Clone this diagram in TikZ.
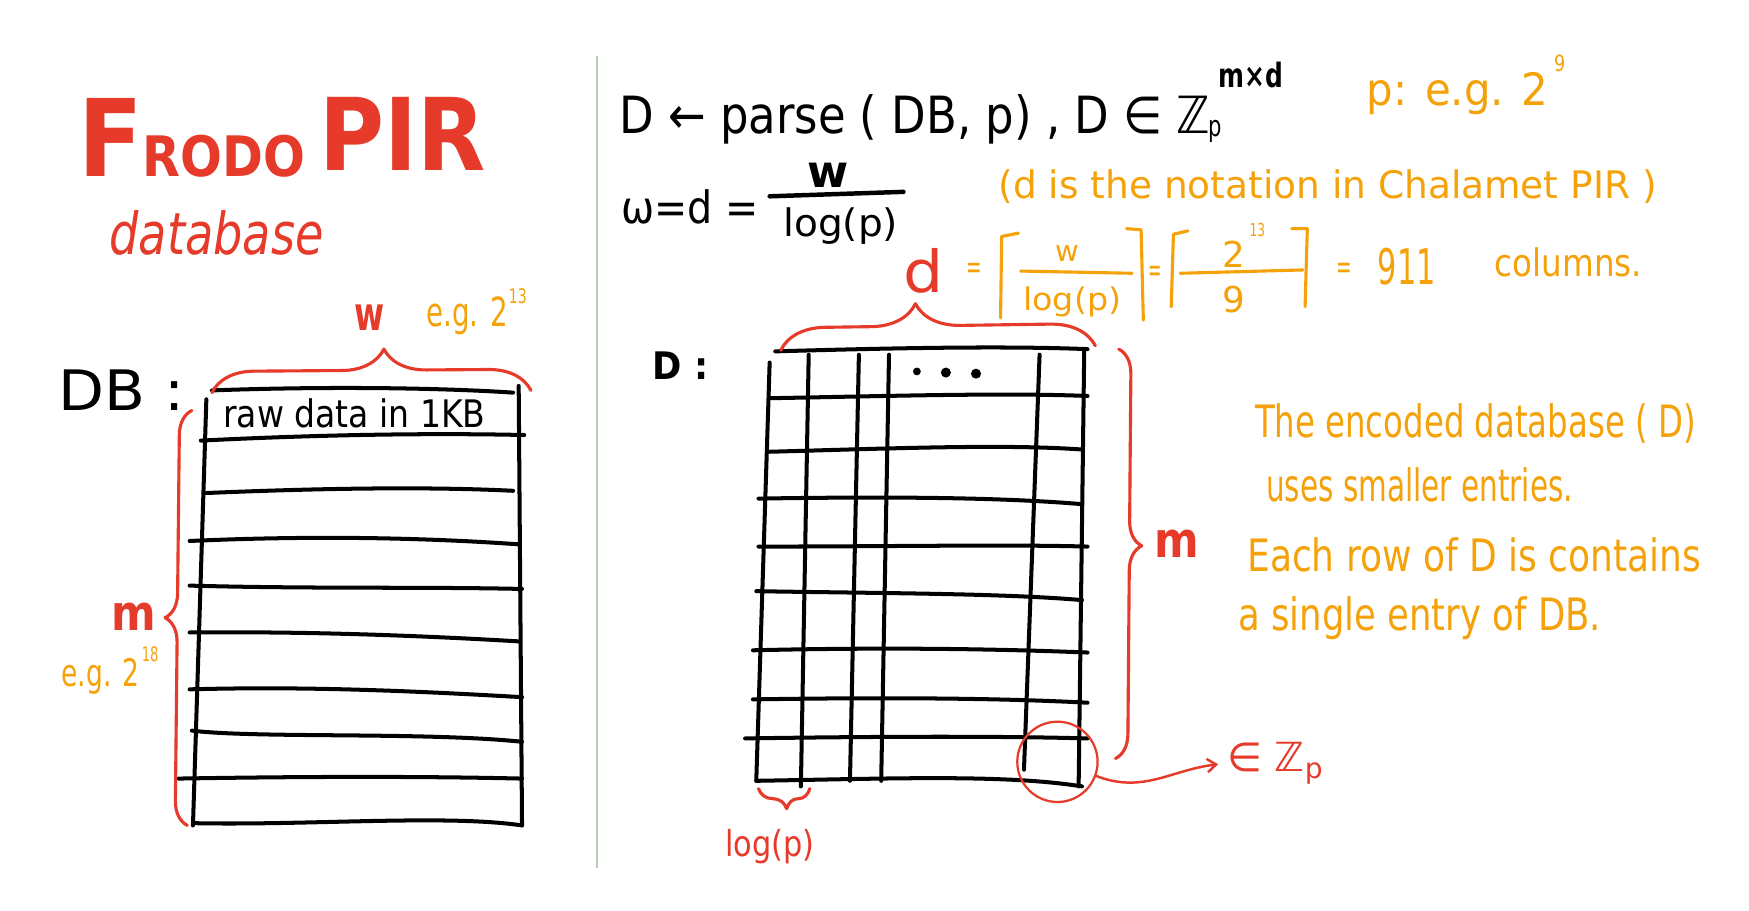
\documentclass[tikz,border=0pt]{standalone}
\usepackage{fontspec}
\setmainfont{DejaVu Sans}
\usetikzlibrary{decorations.pathreplacing,arrows.meta}
\definecolor{penred}{HTML}{E63A2A}
\definecolor{penorange}{HTML}{F5A20A}
\definecolor{divgreen}{HTML}{B5CDB0}
\newcommand\hw[3]{\resizebox{#1pt}{\height}{\fontsize{#2pt}{#2pt}\selectfont #3}}
\begin{document}
\begin{tikzpicture}[x=1pt,y=-1pt,
  txt/.style={inner sep=0pt, anchor=base west},
  ctxt/.style={inner sep=0pt, anchor=base},
  ink/.style={draw=black, line width=3.6pt, line cap=round, line join=round},
  redink/.style={draw=penred, line width=2.8pt, line cap=round, line join=round},
  orink/.style={draw=penorange, line width=2.8pt, line cap=round, line join=round},
  ]
\fill[white] (0,0) rectangle (1568,816);
\useasboundingbox (0,0) rectangle (1568,816);

% divider
\draw[divgreen, line width=2pt] (535,50) -- (535,778);

% ---------- left side ----------
\node[txt, text=penred] (title) at (70,158)
  {\resizebox{365pt}{\height}{\bfseries\fontsize{96pt}{96pt}\selectfont F\fontsize{50pt}{50pt}\selectfont RODO\hspace{14pt}\fontsize{90pt}{90pt}\selectfont\raisebox{5pt}{PIR}}};
\node[txt, text=penred] (dbword) at (98,228) {\hw{192}{52}{\itshape database}};

\node[txt, text=penred] (wlab) at (318,296) {\hw{27}{42}{\bfseries w}};
\node[txt, text=penorange] (egw) at (382,293) {\hw{73}{36}{e.g. 2}};
\node[txt, text=penorange] (egw13) at (456,272) {\hw{16}{18}{13}};

\node[txt] (dblab) at (52,368) {\hw{113}{50}{DB :}};
\node[txt] (rawdata) at (200,383) {\hw{235}{34}{raw data in 1KB}};

\node[txt, text=penred] (mleft) at (100,565) {\hw{40}{44}{\bfseries m}};
\node[txt, text=penorange] (egm) at (55,615) {\hw{70}{34}{e.g. 2}};
\node[txt, text=penorange] (egm18) at (127,593) {\hw{15}{18}{18}};

% DB table
\draw[ink] (190,350) .. controls (300,346) and (400,348) .. (460,352);
\draw[ink] (185,358) -- (173,740);
\draw[ink] (465,346) -- (468,740);
\draw[ink] (180,395) .. controls (280,390) and (380,388) .. (470,390);
\draw[ink] (185,442) .. controls (280,438) and (380,436) .. (460,440);
\draw[ink] (170,485) .. controls (280,480) and (380,482) .. (465,488);
\draw[ink] (170,525) .. controls (280,528) and (380,526) .. (468,528);
\draw[ink] (170,567) .. controls (280,566) and (380,570) .. (465,575);
\draw[ink] (170,618) .. controls (280,615) and (380,620) .. (468,625);
\draw[ink] (172,655) .. controls (230,662) and (380,656) .. (468,665);
\draw[ink] (160,698) .. controls (280,696) and (380,696) .. (468,698);
\draw[ink] (175,738) .. controls (280,740) and (400,730) .. (468,740);

% braces of DB
\draw[redink, decorate, decoration={brace, amplitude=38pt, aspect=0.54}] (190,352) -- (476,350);
\draw[redink, decorate, decoration={brace, amplitude=22pt, aspect=0.5}] (168,740) -- (172,368);

% ---------- right side ----------
\node[txt] (parse) at (555,120) {\hw{530}{46}{D ← parse ( DB, p) ,  D ∈ ℤ}};
\node[txt] (zsub) at (1083,122) {\hw{12}{26}{p}};
\node[txt] (zsup) at (1092,78) {\hw{58}{30}{\bfseries m×d}};
\node[txt, text=penorange] (peg) at (1225,95) {\hw{163}{40}{p: e.g. 2}};
\node[txt, text=penorange] (peg9) at (1393,64) {\hw{10}{20}{9}};

\node[txt] (omega) at (557,200) {\hw{123}{40}{ω=d =}};
\node[ctxt] (fnum) at (742,168) {\fontsize{40pt}{40pt}\selectfont\bfseries w};
\draw[ink, line width=4pt] (690,176) -- (810,172);
\node[txt] (fden) at (702,212) {\hw{103}{34}{log(p)}};

\node[txt, text=penorange] (note) at (895,178) {\hw{590}{34}{(d is the notation in Chalamet PIR )}};

\node[txt, text=penred] (dred) at (810,262) {\hw{36}{52}{d}};
\node[txt, text=penorange] (eq1) at (866,250) {\hw{14}{30}{=}};
\draw[orink] (913,209) -- (898,212) -- (897,285);
\draw[orink] (1010,205) -- (1023,206) -- (1025,287);
\node[ctxt, text=penorange] (c1num) at (957,234) {\fontsize{26pt}{26pt}\selectfont w};
\draw[orink] (915,243) -- (1015,245);
\node[txt, text=penorange] (c1den) at (917,278) {\hw{88}{28}{log(p)}};
\node[txt, text=penorange] (eq2) at (1029,252) {\hw{12}{30}{=}};
\draw[orink] (1065,207) -- (1052,210) -- (1050,275);
\draw[orink] (1158,205) -- (1172,205) -- (1170,275);
\node[ctxt, text=penorange] (c2num) at (1106,240) {\fontsize{32pt}{32pt}\selectfont 2};
\node[txt, text=penorange] (c2sup) at (1120,212) {\hw{14}{16}{13}};
\draw[orink] (1058,245) -- (1168,242);
\node[ctxt, text=penorange] (c2den) at (1106,280) {\fontsize{32pt}{32pt}\selectfont 9};
\node[txt, text=penorange] (eq3) at (1198,250) {\hw{14}{30}{=}};
\node[txt, text=penorange] (n911) at (1235,255) {\hw{52}{44}{911}};
\node[txt, text=penorange] (cols) at (1340,248) {\hw{132}{34}{columns.}};

\node[txt] (Dlab) at (585,340) {\hw{50}{34}{\bfseries D :}};

% grid
\draw[ink] (695,315) .. controls (800,312) and (900,310) .. (975,313);
\draw[ink] (690,357) .. controls (800,355) and (900,352) .. (975,355);
\draw[ink] (690,405) .. controls (800,402) and (900,398) .. (970,403);
\draw[ink] (680,447) .. controls (800,445) and (900,446) .. (970,452);
\draw[ink] (680,490) .. controls (800,490) and (900,488) .. (975,490);
\draw[ink] (678,530) .. controls (800,532) and (900,532) .. (970,538);
\draw[ink] (675,583) .. controls (800,580) and (900,582) .. (975,585);
\draw[ink] (675,627) .. controls (800,625) and (900,626) .. (975,630);
\draw[ink] (668,662) .. controls (800,660) and (900,660) .. (975,662);
\draw[ink] (678,700) .. controls (800,698) and (900,694) .. (970,705);
\draw[ink] (690,325) -- (678,700);
\draw[ink] (725,318) -- (718,705);
\draw[ink] (770,318) -- (762,700);
\draw[ink] (797,318) -- (790,700);
\draw[ink] (932,318) -- (918,690);
\draw[ink] (972,315) -- (967,705);
\fill (822,333) circle (3.5pt) (848,334) circle (4.5pt) (875,335) circle (4.5pt);

% braces of D
\draw[redink, decorate, decoration={brace, amplitude=40pt, aspect=0.43}] (700,314) -- (982,310);
\draw[redink, decorate, decoration={brace, amplitude=22pt, aspect=0.48}] (1003,313) -- (1000,680);
\draw[redink, decorate, decoration={brace, amplitude=18pt, aspect=0.45}] (726,707) -- (680,707);

\node[txt, text=penred] (mright) at (1035,500) {\hw{40}{44}{\bfseries m}};
\node[txt, text=penred] (logp) at (650,768) {\hw{80}{32}{log(p)}};

\node[draw=penred, line width=2pt, circle, minimum size=72pt, inner sep=0pt] (cell) at (948,683) {};
\node[txt, text=penred] (zp) at (1100,692) {\fontsize{36pt}{36pt}\selectfont ∈ ℤ\textsubscript{p}};
\draw[penred, line width=2.2pt, line cap=round, -{Straight Barb[length=8pt,width=12pt]}, shorten >=8pt]
  (cell.-20) .. controls (1025,712) and (1050,690) .. (zp.west);

\node[txt, text=penorange] (p1) at (1125,392) {\hw{395}{40}{The encoded database ( D)}};
\node[txt, text=penorange] (p2) at (1135,450) {\hw{275}{40}{uses smaller entries.}};
\node[txt, text=penorange] (p3) at (1118,512) {\hw{407}{40}{Each row of D is contains}};
\node[txt, text=penorange] (p4) at (1110,565) {\hw{325}{40}{a single entry of DB.}};
\end{tikzpicture}
\end{document}
